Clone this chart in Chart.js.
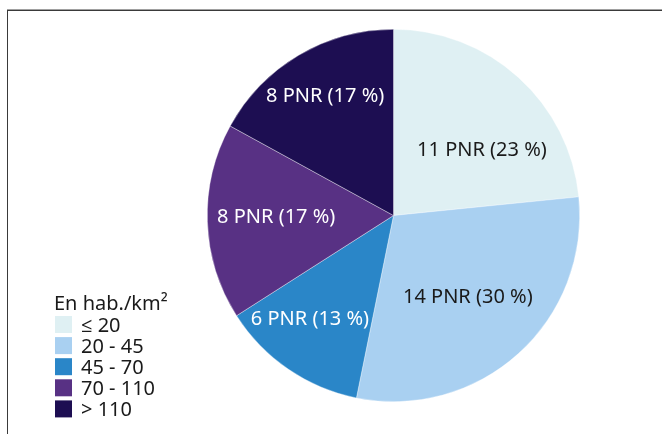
<!DOCTYPE html>
<html>
<head>
<meta charset="utf-8">
<script src="https://cdn.jsdelivr.net/npm/chart.js@4"></script>
<style>
  html, body { margin: 0; padding: 0; background: #fff; }
  #wrap { position: relative; width: 662px; height: 434px; overflow: hidden; }
  #frameOuter { position: absolute; left: 7px; top: 9px; right: 0; bottom: 0; border-top: 1px solid #a0a0a0; }
  #frameInner { position: absolute; left: 0; top: 0; right: 0; bottom: 0; border-top: 1px solid #3a3a3a; border-left: 1px solid #3a3a3a; }
  canvas { position: absolute; left: 0; top: 0; }
</style>
</head>
<body>
<div id="wrap">
  <div id="frameOuter"><div id="frameInner"></div></div>
  <canvas id="c" width="662" height="434"></canvas>
</div>
<script>
// Data
const categories = ['≤ 20', '20 - 45', '45 - 70', '70 - 110', '> 110'];
const counts = [11, 14, 6, 8, 8];
const percents = [23, 30, 13, 17, 17];
const legendTitle = 'En hab./km²';

// Styles
const colors = ['#dff0f3', '#a9d0f1', '#2a86c8', '#583184', '#1d0e52'];
const labelColors = ['#1a1a1a', '#1a1a1a', '#ffffff', '#ffffff', '#ffffff'];
const labelRadiusFrac = [0.59, 0.595, 0.715, 0.63, 0.74];
const labelAngleOffsetDeg = [11.5, 0, 4.4, 1, 0.9];
const FONT = '"Noto Sans", "Open Sans", sans-serif';

const sliceLabels = {
  id: 'sliceLabels',
  afterDatasetsDraw(chart) {
    const ctx = chart.ctx;
    const meta = chart.getDatasetMeta(0);
    ctx.save();
    ctx.font = '20px ' + FONT;
    ctx.textAlign = 'center';
    ctx.textBaseline = 'middle';
    meta.data.forEach((arc, i) => {
      const p = arc.getProps(['x', 'y', 'startAngle', 'endAngle', 'outerRadius'], true);
      const a = (p.startAngle + p.endAngle) / 2 + labelAngleOffsetDeg[i] * Math.PI / 180;
      const r = p.outerRadius * labelRadiusFrac[i];
      ctx.fillStyle = labelColors[i];
      ctx.fillText(counts[i] + ' PNR (' + percents[i] + ' %)', p.x + Math.cos(a) * r, p.y + Math.sin(a) * r);
    });
    ctx.restore();
  }
};

const customLegend = {
  id: 'customLegend',
  afterDraw(chart) {
    const ctx = chart.ctx;
    ctx.save();
    ctx.textAlign = 'left';
    ctx.textBaseline = 'alphabetic';
    ctx.fillStyle = '#1a1a1a';
    ctx.font = '20px ' + FONT;
    ctx.fillText(legendTitle, 54, 310);
    const x0 = 55, box = 17, step = 21.1, firstTop = 316;
    categories.forEach((c, i) => {
      const top = firstTop + i * step;
      ctx.fillStyle = colors[i];
      ctx.fillRect(x0, top, box, box);
      ctx.fillStyle = '#1a1a1a';
      ctx.fillText(c, 81, top + box / 2 + 7.5);
    });
    ctx.restore();
  }
};

new Chart(document.getElementById('c'), {
  type: 'pie',
  data: {
    labels: categories,
    datasets: [{
      data: counts,
      backgroundColor: colors,
      borderColor: 'rgba(255,255,255,0.6)',
      borderWidth: 0.6
    }]
  },
  options: {
    responsive: false,
    animation: false,
    layout: { padding: { left: 206, right: 81, top: 29, bottom: 32 } },
    plugins: {
      legend: { display: false },
      tooltip: { enabled: false }
    }
  },
  plugins: [sliceLabels, customLegend]
});
</script>
</body>
</html>
